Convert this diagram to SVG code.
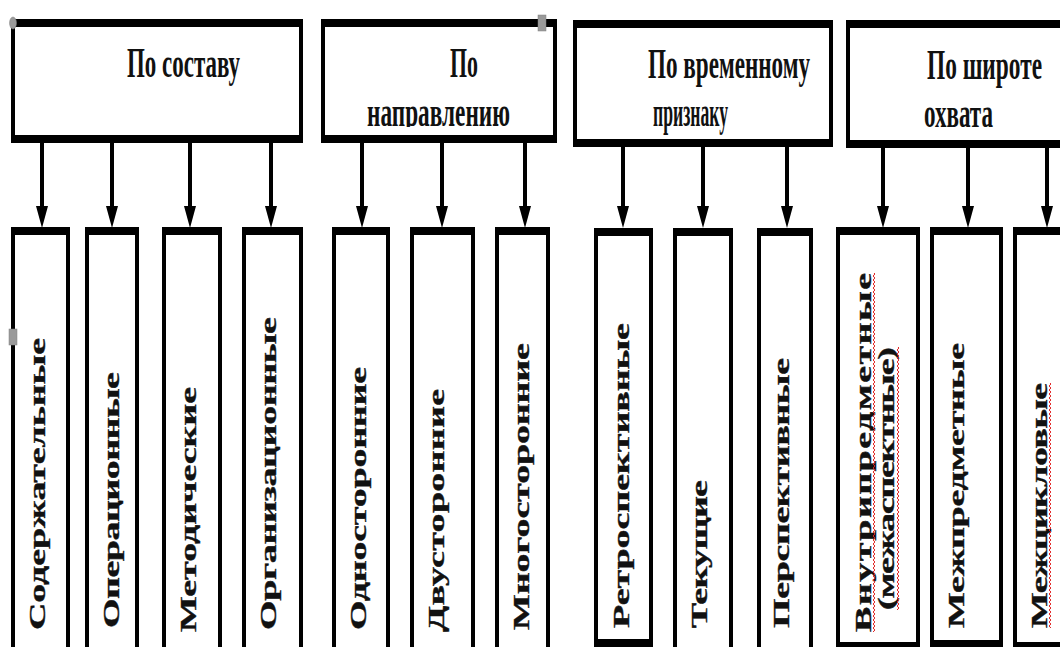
<svg xmlns="http://www.w3.org/2000/svg" width="1060" height="647" viewBox="0 0 1060 647">
<defs>
<style>
.ob{fill:#000}
.ib{fill:#fff}
.hd{font-family:"Liberation Serif","Times New Roman",serif;font-weight:bold;font-size:42px;fill:#111}
.vt{font-family:"Liberation Serif","Times New Roman",serif;font-weight:bold;font-size:38px;fill:#111;stroke:#111;stroke-width:0.6}
.cn{stroke:#000;stroke-width:4;fill:none}
.hdl{fill:#9a9a9a;stroke:#808080;stroke-width:0.5}
</style>
<marker id="ah" markerUnits="userSpaceOnUse" markerWidth="23" markerHeight="14" refX="0" refY="7" orient="auto">
<path d="M0,1 L22,7 L0,13 z" fill="#000"/>
</marker>
<pattern id="sq" patternUnits="userSpaceOnUse" width="4" height="4">
<path d="M2,0 Q3.8,1 2,2 Q0.2,3 2,4" stroke="#e02020" stroke-width="1" fill="none"/>
</pattern>
<clipPath id="clipB2"><rect x="321" y="19" width="236" height="108"/></clipPath>
</defs>
<rect width="1060" height="647" fill="#fff"/>

<g id="connectors">
<line class="cn" x1="42" y1="143" x2="42" y2="206" marker-end="url(#ah)"/>
<line class="cn" x1="112" y1="143" x2="112" y2="206" marker-end="url(#ah)"/>
<line class="cn" x1="190" y1="143" x2="190" y2="206" marker-end="url(#ah)"/>
<line class="cn" x1="271" y1="143" x2="271" y2="206" marker-end="url(#ah)"/>
<line class="cn" x1="362" y1="143" x2="362" y2="206" marker-end="url(#ah)"/>
<line class="cn" x1="442" y1="143" x2="442" y2="206" marker-end="url(#ah)"/>
<line class="cn" x1="525" y1="143" x2="525" y2="206" marker-end="url(#ah)"/>
<line class="cn" x1="623" y1="147" x2="623" y2="206" marker-end="url(#ah)"/>
<line class="cn" x1="703" y1="147" x2="703" y2="206" marker-end="url(#ah)"/>
<line class="cn" x1="787" y1="147" x2="787" y2="206" marker-end="url(#ah)"/>
<line class="cn" x1="883" y1="148" x2="883" y2="206" marker-end="url(#ah)"/>
<line class="cn" x1="968" y1="148" x2="968" y2="206" marker-end="url(#ah)"/>
<line class="cn" x1="1047" y1="148" x2="1047" y2="206" marker-end="url(#ah)"/>
</g>

<g id="head1">
<rect class="ob" x="11" y="19" width="292" height="124"/>
<rect class="ib" x="15" y="27" width="284" height="108"/>
<text class="hd" x="127" y="77" textLength="113" lengthAdjust="spacingAndGlyphs">По составу</text>
</g>
<g id="head2">
<rect class="ob" x="321" y="19" width="236" height="124"/>
<rect class="ib" x="325" y="27" width="228" height="108"/>
<g clip-path="url(#clipB2)">
<text class="hd" x="450" y="77" textLength="28" lengthAdjust="spacingAndGlyphs">По</text>
<text class="hd" x="367" y="126" textLength="143" lengthAdjust="spacingAndGlyphs">направлению</text>
</g>
</g>
<g id="head3">
<rect class="ob" x="573" y="20" width="260" height="127"/>
<rect class="ib" x="577" y="28" width="252" height="111"/>
<text class="hd" x="648" y="78" textLength="162" lengthAdjust="spacingAndGlyphs">По временному</text>
<text class="hd" x="653" y="126" textLength="75" lengthAdjust="spacingAndGlyphs">признаку</text>
</g>
<g id="head4">
<rect class="ob" x="846" y="20" width="230" height="128"/>
<rect class="ib" x="850" y="28" width="230" height="112"/>
<text class="hd" x="927" y="79" textLength="115" lengthAdjust="spacingAndGlyphs">По широте</text>
<text class="hd" x="924" y="127" textLength="69" lengthAdjust="spacingAndGlyphs">охвата</text>
</g>

<g id="n-soderzh">
<rect class="ob" x="11" y="227" width="59" height="440"/>
<rect class="ib" x="15" y="235" width="51" height="440"/>
<text class="vt" transform="translate(45,630) rotate(-90) scale(1,0.6)" textLength="292" lengthAdjust="spacing">Содержательные</text>
</g>
<g id="n-oper">
<rect class="ob" x="85" y="227" width="54" height="440"/>
<rect class="ib" x="89" y="235" width="46" height="440"/>
<text class="vt" transform="translate(119,628) rotate(-90) scale(1,0.6)" textLength="256" lengthAdjust="spacing">Операционные</text>
</g>
<g id="n-metod">
<rect class="ob" x="162" y="227" width="60" height="440"/>
<rect class="ib" x="166" y="235" width="52" height="440"/>
<text class="vt" transform="translate(196,632) rotate(-90) scale(1,0.6)" textLength="245" lengthAdjust="spacing">Методические</text>
</g>
<g id="n-organiz">
<rect class="ob" x="242" y="227" width="61" height="440"/>
<rect class="ib" x="246" y="235" width="53" height="440"/>
<text class="vt" transform="translate(276,630) rotate(-90) scale(1,0.6)" textLength="313" lengthAdjust="spacing">Организационные</text>
</g>
<g id="n-odno">
<rect class="ob" x="332" y="227" width="58" height="440"/>
<rect class="ib" x="336" y="235" width="50" height="440"/>
<text class="vt" transform="translate(366,630) rotate(-90) scale(1,0.6)" textLength="263" lengthAdjust="spacing">Односторонние</text>
</g>
<g id="n-dvu">
<rect class="ob" x="410" y="227" width="65" height="440"/>
<rect class="ib" x="414" y="235" width="57" height="440"/>
<text class="vt" transform="translate(444,632) rotate(-90) scale(1,0.6)" textLength="243" lengthAdjust="spacing">Двусторонние</text>
</g>
<g id="n-mnogo">
<rect class="ob" x="495" y="227" width="55" height="440"/>
<rect class="ib" x="499" y="235" width="47" height="440"/>
<text class="vt" transform="translate(529,630) rotate(-90) scale(1,0.6)" textLength="287" lengthAdjust="spacing">Многосторонние</text>
</g>
<g id="n-retro">
<rect class="ob" x="594" y="228" width="59" height="419"/>
<rect class="ib" x="598" y="236" width="51" height="403"/>
<text class="vt" transform="translate(629,628) rotate(-90) scale(1,0.6)" textLength="305" lengthAdjust="spacing">Ретроспективные</text>
</g>
<g id="n-tekush">
<rect class="ob" x="673" y="228" width="60" height="440"/>
<rect class="ib" x="677" y="236" width="52" height="440"/>
<text class="vt" transform="translate(707,628) rotate(-90) scale(1,0.6)" textLength="148" lengthAdjust="spacing">Текущие</text>
</g>
<g id="n-persp">
<rect class="ob" x="757" y="228" width="56" height="440"/>
<rect class="ib" x="761" y="236" width="48" height="440"/>
<text class="vt" transform="translate(789,628) rotate(-90) scale(1,0.6)" textLength="270" lengthAdjust="spacing">Перспективные</text>
</g>
<g id="n-vnutri">
<rect class="ob" x="836" y="227" width="84" height="420"/>
<rect class="ib" x="840" y="235" width="76" height="407"/>
<text class="vt" transform="translate(871,632) rotate(-90) scale(1,0.6)" textLength="359" lengthAdjust="spacing">Внутрипредметные</text>
<text class="vt" transform="translate(894,610) rotate(-90) scale(1,0.6)" textLength="263" lengthAdjust="spacing">(межаспектные)</text>
<rect transform="translate(872,273)" width="4" height="359" fill="url(#sq)"/>
<rect transform="translate(896,347)" width="4" height="263" fill="url(#sq)"/>
</g>
<g id="n-mezhpred">
<rect class="ob" x="930" y="227" width="73" height="420"/>
<rect class="ib" x="934" y="235" width="65" height="405"/>
<text class="vt" transform="translate(964,628) rotate(-90) scale(1,0.6)" textLength="285" lengthAdjust="spacing">Межпредметные</text>
</g>
<g id="n-mezhcikl">
<rect class="ob" x="1013" y="227" width="70" height="420"/>
<rect class="ib" x="1017" y="235" width="70" height="407"/>
<text class="vt" transform="translate(1047,628) rotate(-90) scale(1,0.6)" textLength="245" lengthAdjust="spacing">Межцикловые</text>
<rect transform="translate(1048,383)" width="4" height="245" fill="url(#sq)"/>
</g>

<ellipse class="hdl" cx="13" cy="23" rx="3.5" ry="6"/>
<rect class="hdl" x="538" y="15" width="8" height="16"/>
<rect class="hdl" x="9" y="329" width="8" height="16"/>
</svg>
